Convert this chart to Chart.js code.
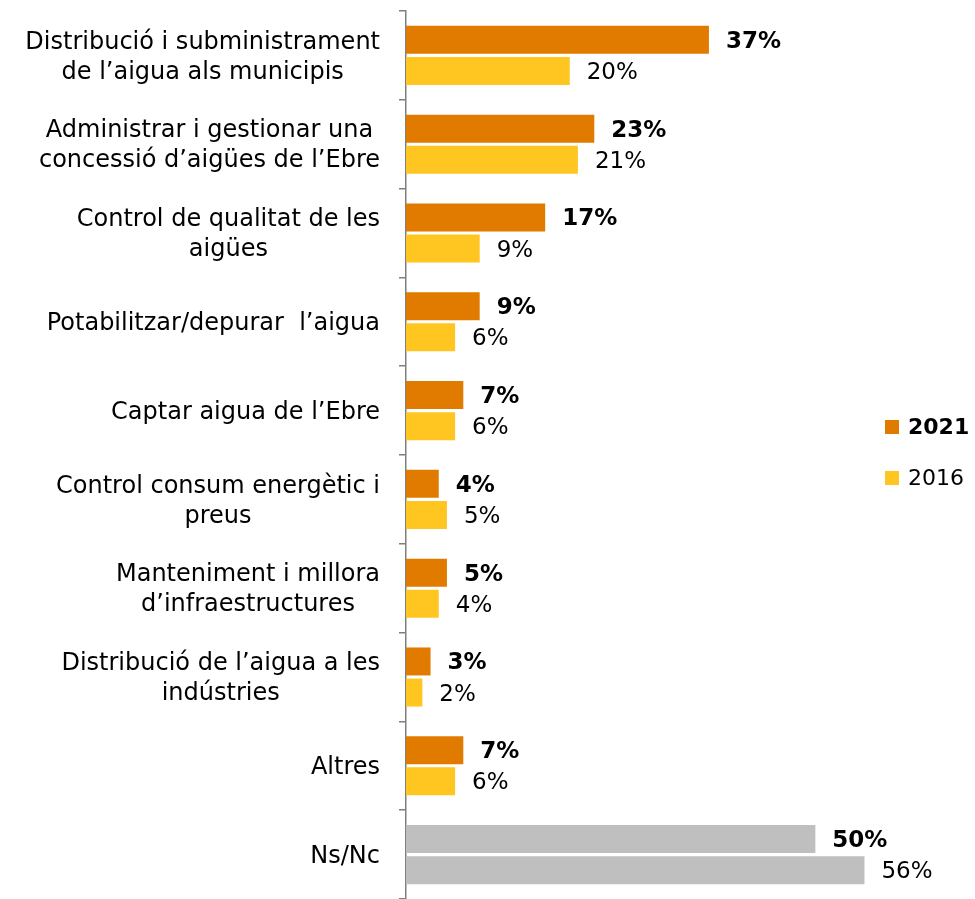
<!DOCTYPE html>
<html lang="ca">
<head>
    <meta charset="UTF-8">
    <title>Funcions de l'aigua</title>
    <script src="https://cdn.jsdelivr.net/npm/chart.js"></script>
    <style>
        html, body { margin: 0; padding: 0; background: #fff; overflow: hidden; }
        #wrap { width: 975px; height: 899px; position: relative; }
    </style>
</head>
<body>
<div id="wrap"><canvas id="chart"></canvas></div>
<script>
    // data
    const categories = [
        ["Distribució i subministrament", "de l’aigua als municipis"],
        ["Administrar i gestionar una", "concessió d’aigües de l’Ebre"],
        ["Control de qualitat de les", "aigües"],
        ["Potabilitzar/depurar  l’aigua"],
        ["Captar aigua de l’Ebre"],
        ["Control consum energètic i", "preus"],
        ["Manteniment i millora", "d’infraestructures"],
        ["Distribució de l’aigua a les", "indústries"],
        ["Altres"],
        ["Ns/Nc"]
    ];
    const values2021 = [37, 23, 17, 9, 7, 4, 5, 3, 7, 50];
    const values2016 = [20, 21, 9, 6, 6, 5, 4, 2, 6, 56];
    const seriesNames = ["2021", "2016"];

    const ORANGE = '#E07B00';
    const YELLOW = '#FFC520';
    const GREY = '#BFBFBF';
    const FONT = '"DejaVu Sans", sans-serif';

    const colorsFor = (base) => categories.map(c => c[0] === 'Ns/Nc' ? GREY : base);

    // category labels: each block centred on itself, right edge at a fixed x
    const catLabels = {
        id: 'catLabels',
        afterDraw(chart) {
            const ctx = chart.ctx;
            const y = chart.scales.y;
            const rightX = 380;
            const lh = 30;
            ctx.save();
            ctx.font = '24px ' + FONT;
            ctx.fillStyle = '#000';
            ctx.textBaseline = 'middle';
            ctx.textAlign = 'center';
            categories.forEach((lines, i) => {
                const w = Math.max(...lines.map(l => ctx.measureText(l).width));
                const cx = rightX - w / 2;
                const cy = y.getPixelForValue(i) + 2;
                const y0 = cy - (lines.length - 1) * lh / 2;
                lines.forEach((l, k) => ctx.fillText(l, cx, y0 + k * lh));
            });
            ctx.restore();
        }
    };

    // value labels at the end of each bar
    const valueLabels = {
        id: 'valueLabels',
        afterDatasetsDraw(chart) {
            const ctx = chart.ctx;
            ctx.save();
            ctx.textBaseline = 'middle';
            ctx.textAlign = 'left';
            ctx.fillStyle = '#000';
            chart.data.datasets.forEach((ds, di) => {
                ctx.font = (di === 0 ? 'bold ' : '') + '23px ' + FONT;
                chart.getDatasetMeta(di).data.forEach((bar, i) => {
                    ctx.fillText(ds.data[i] + '%', bar.x + 17, bar.y + 2);
                });
            });
            ctx.restore();
        }
    };

    // legend on the right
    const sideLegend = {
        id: 'sideLegend',
        afterDraw(chart) {
            const ctx = chart.ctx;
            const items = [
                { text: seriesNames[0], color: ORANGE, bold: true, y: 427 },
                { text: seriesNames[1], color: YELLOW, bold: false, y: 478 }
            ];
            ctx.save();
            ctx.textBaseline = 'middle';
            ctx.textAlign = 'left';
            items.forEach(it => {
                ctx.fillStyle = it.color;
                ctx.fillRect(885, it.y - 7, 14, 14);
                ctx.fillStyle = '#000';
                ctx.font = (it.bold ? 'bold ' : '') + '22px ' + FONT;
                ctx.fillText(it.text, 908, it.y + 1);
            });
            ctx.restore();
        }
    };

    new Chart(document.getElementById('chart'), {
        type: 'bar',
        data: {
            labels: categories,
            datasets: [
                {
                    label: seriesNames[0],
                    data: values2021,
                    backgroundColor: colorsFor(ORANGE),
                    categoryPercentage: 0.70,
                    barPercentage: 0.90
                },
                {
                    label: seriesNames[1],
                    data: values2016,
                    backgroundColor: colorsFor(YELLOW),
                    categoryPercentage: 0.70,
                    barPercentage: 0.90
                }
            ]
        },
        options: {
            indexAxis: 'y',
            responsive: true,
            maintainAspectRatio: false,
            animation: false,
            layout: { padding: { top: 11, right: 0, bottom: 0, left: 0 } },
            plugins: {
                legend: { display: false },
                tooltip: { enabled: false }
            },
            scales: {
                x: {
                    display: false,
                    min: 0,
                    max: 69.5
                },
                y: {
                    offset: true,
                    grid: {
                        offset: true,
                        drawOnChartArea: false,
                        drawTicks: true,
                        tickLength: 7,
                        color: '#7f7f7f',
                        lineWidth: 1.5
                    },
                    border: { display: true, color: '#7f7f7f', width: 1.5 },
                    ticks: { display: false },
                    afterFit(scale) { scale.width = 406; }
                }
            }
        },
        plugins: [catLabels, valueLabels, sideLegend]
    });
</script>
</body>
</html>
